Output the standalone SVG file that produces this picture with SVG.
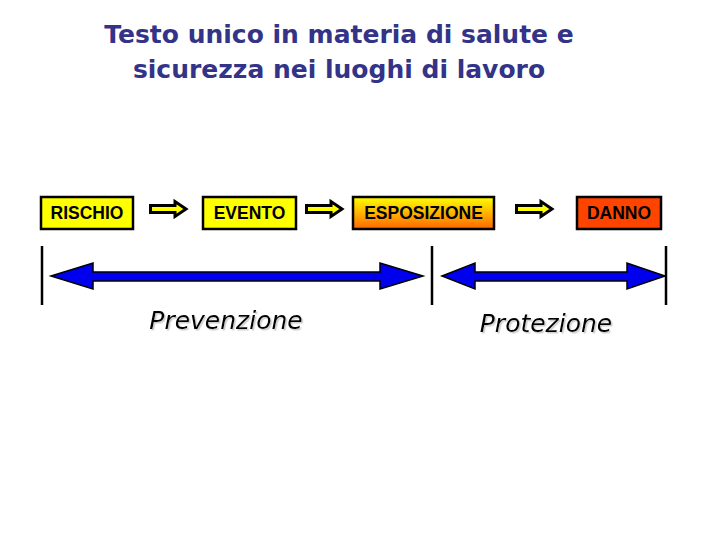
<svg xmlns="http://www.w3.org/2000/svg" width="720" height="540" viewBox="0 0 720 540">
<defs>
<style>
.title{font-family:"DejaVu Sans",Verdana,sans-serif;font-weight:bold;font-size:25px;fill:#333388;text-anchor:middle}
.box{stroke:#000;stroke-width:2.5}
.lbl{font-family:"Liberation Sans",Arial,sans-serif;font-weight:bold;font-size:17.5px;fill:#000;text-anchor:middle}
.yarrow{fill:#ffff00;stroke:#000;stroke-width:3;stroke-linejoin:miter}
.barrow{fill:#0000ee;stroke:#000;stroke-width:1.5}
.bar{stroke:#000;stroke-width:2.5}
.big{font-family:"DejaVu Sans",Tahoma,sans-serif;font-style:italic;font-size:25px;fill:#000;text-anchor:middle}
</style>
<linearGradient id="g" x1="0" y1="0" x2="0" y2="1">
<stop offset="0" stop-color="#ffff00"/>
<stop offset="1" stop-color="#ff6600"/>
</linearGradient>
<filter id="sh" x="-10%" y="-20%" width="130%" height="150%">
<feDropShadow dx="1.5" dy="1.5" stdDeviation="0.5" flood-color="#999" flood-opacity="0.5"/>
</filter>
<path id="ya" d="M1.5,-3.5 H26 V-7.5 L37,0 L26,7.5 V3.5 H1.5 Z"/>
</defs>
<rect width="720" height="540" fill="#fff"/>
<g id="title">
<text class="title" x="339" y="43">Testo unico in materia di salute e</text>
<text class="title" x="339" y="78">sicurezza nei luoghi di lavoro</text>
</g>
<g id="rischio">
<rect class="box" x="41" y="197" width="92" height="32" fill="#ffff00"/>
<text class="lbl" x="87" y="219">RISCHIO</text>
</g>
<g id="evento">
<rect class="box" x="203" y="197" width="93" height="32" fill="#ffff00"/>
<text class="lbl" x="249.5" y="219">EVENTO</text>
</g>
<g id="esposizione">
<rect class="box" x="353" y="197" width="141" height="32" fill="url(#g)"/>
<text class="lbl" x="423.5" y="219">ESPOSIZIONE</text>
</g>
<g id="danno">
<rect class="box" x="577" y="197" width="84" height="32" fill="#ff4400"/>
<text class="lbl" x="619" y="219">DANNO</text>
</g>
<g id="connectors">
<use href="#ya" class="yarrow" x="149" y="209"/>
<use href="#ya" class="yarrow" x="305" y="209"/>
<use href="#ya" class="yarrow" x="515" y="209"/>
<line class="bar" x1="42" y1="246" x2="42" y2="305"/>
<line class="bar" x1="432" y1="246" x2="432" y2="305"/>
<line class="bar" x1="666" y1="246" x2="666" y2="305"/>
<path class="barrow" d="M51,276 L93,263 V272 H380 V263 L423,276 L380,289 V281 H93 V289 Z"/>
<path class="barrow" d="M442,276 L475,263 V272 H627 V263 L665,276 L627,289 V281 H475 V289 Z"/>
</g>
<g id="prevenzione" filter="url(#sh)">
<text class="big" x="226" y="329">Prevenzione</text>
</g>
<g id="protezione" filter="url(#sh)">
<text class="big" x="546" y="332">Protezione</text>
</g>
</svg>
